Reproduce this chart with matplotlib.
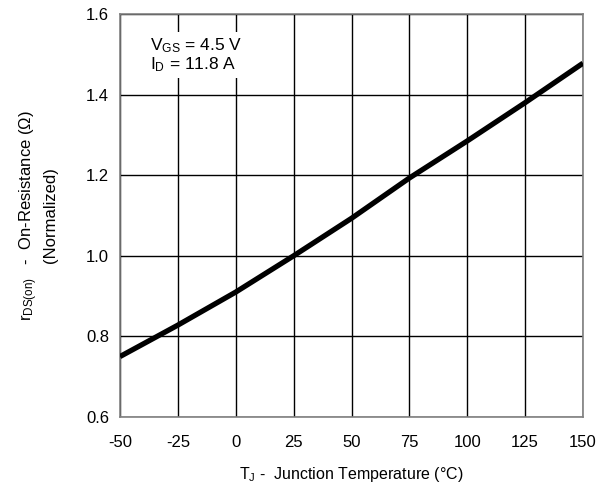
import numpy as np
import matplotlib.pyplot as plt

plt.rcParams['font.family'] = ['Liberation Sans', 'DejaVu Sans']
plt.rcParams['mathtext.default'] = 'regular'

# normalized on-resistance vs junction temperature
temp = [-50, -25, 0, 25, 50, 75, 100, 125, 150]
rds_norm = [0.750, 0.828, 0.910, 1.000, 1.093, 1.193, 1.285, 1.380, 1.478]
xticks = [-50, -25, 0, 25, 50, 75, 100, 125, 150]
yticks = [0.6, 0.8, 1.0, 1.2, 1.4, 1.6]

fig = plt.figure(figsize=(6.11, 4.88), dpi=100)
ax = fig.add_axes([120 / 611, 1 - 417 / 488, 463 / 611, 403 / 488])

ax.plot(temp, rds_norm, color='black', lw=3.8, solid_capstyle='butt', zorder=3)

ax.set_xlim(-50, 150)
ax.set_ylim(0.6, 1.6)
ax.set_xticks(xticks)
ax.set_yticks(yticks)
ax.set_xticklabels([str(t) for t in xticks])
ax.set_yticklabels(['%.1f' % t for t in yticks])
ax.grid(True, color='black', lw=1.0)
ax.tick_params(length=0, labelsize=12)
ax.tick_params(axis='x', pad=13)
ax.tick_params(axis='y', pad=8)
for s in ax.spines.values():
    s.set_color('#808080')
    s.set_linewidth(1.2)

ax.set_xlabel(r'$T_J$ -  Junction Temperature ($\degree$C)', fontsize=11.5, labelpad=11)
ax.set_ylabel('$r_{DS(on)}$   -  On-Resistance ($\\Omega$)\n(Normalized)',
              fontsize=12, labelpad=20, linespacing=1.25)

ax.text(-37, 1.545, '$V_{GS}$ = 4.5 V\n$I_D$ = 11.8 A', fontsize=12.5,
        va='top', ha='left', linespacing=1.05, zorder=4,
        bbox=dict(facecolor='white', edgecolor='none', pad=3))

fig.savefig('out.png', dpi=100)
